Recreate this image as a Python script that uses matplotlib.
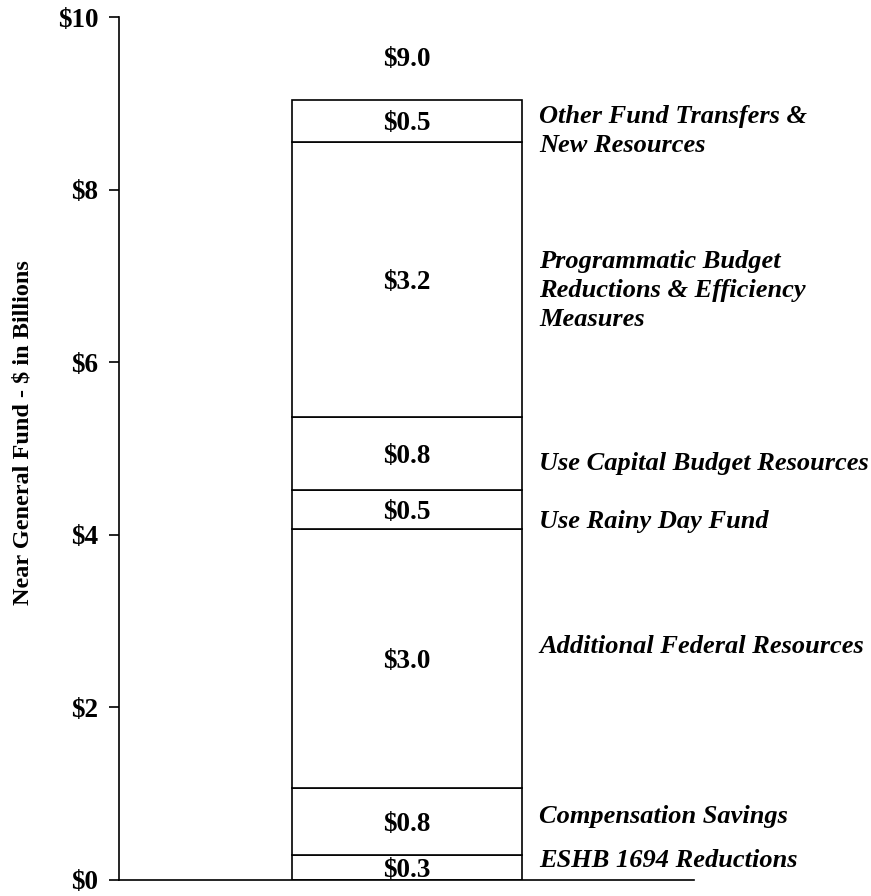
import matplotlib.pyplot as plt

# Segment values, bottom to top ($ billions)
amounts = [0.29, 0.78, 3.00, 0.45, 0.85, 3.18, 0.49]
value_labels = ["$0.3", "$0.8", "$3.0", "$0.5", "$0.8", "$3.2", "$0.5"]
categories = [
    "ESHB 1694 Reductions",
    "Compensation Savings",
    "Additional Federal Resources",
    "Use Rainy Day Fund",
    "Use Capital Budget Resources",
    "Programmatic Budget\nReductions & Efficiency\nMeasures",
    "Other Fund Transfers &\nNew Resources",
]
# vertical position of each side note (data units)
note_y = [0.23, 0.73, 2.71, 4.15, 4.83, 6.83, 8.68]
total_label = "$9.0"
y_ticks = [0, 2, 4, 6, 8, 10]

plt.rcParams["font.family"] = ["Liberation Serif", "DejaVu Serif"]

fig = plt.figure(figsize=(8.71, 8.96), dpi=100)
ax = fig.add_axes([0.137, 0.018, 0.66, 0.963])

bottom = 0.0
for amt, lab in zip(amounts, value_labels):
    ax.bar(0, amt, width=0.8, bottom=bottom, color="white",
           edgecolor="black", linewidth=1.2)
    ax.text(0, bottom + amt / 2, lab.replace("$", r"\$"), ha="center",
            va="center_baseline", fontsize=19.5, fontweight="bold")
    bottom += amt

ax.text(0, bottom + 0.5, total_label.replace("$", r"\$"), ha="center",
        va="center_baseline", fontsize=19.5, fontweight="bold")

for name, y in zip(categories, note_y):
    ax.text(0.46, y, name.replace("$", r"\$"), ha="left", va="center",
            fontsize=19, fontweight="bold", fontstyle="italic",
            linespacing=1.35, clip_on=False)

ax.set_xlim(-1, 1)
ax.set_ylim(0, 10)
ax.set_xticks([])
ax.set_yticks(y_ticks)
ax.set_yticklabels([r"\$%d" % t for t in y_ticks], fontsize=19.5, fontweight="bold")
ax.tick_params(axis="y", direction="out", length=7, width=1.2, pad=8)
ax.spines["top"].set_visible(False)
ax.spines["right"].set_visible(False)
ax.spines["left"].set_linewidth(1.2)
ax.spines["bottom"].set_linewidth(1.2)
ax.set_ylabel(r"Near General Fund - \$ in Billions", fontsize=17.5,
              fontweight="bold")
ax.yaxis.set_label_coords(-0.150, 0.518)

fig.savefig("out.png", dpi=100)
